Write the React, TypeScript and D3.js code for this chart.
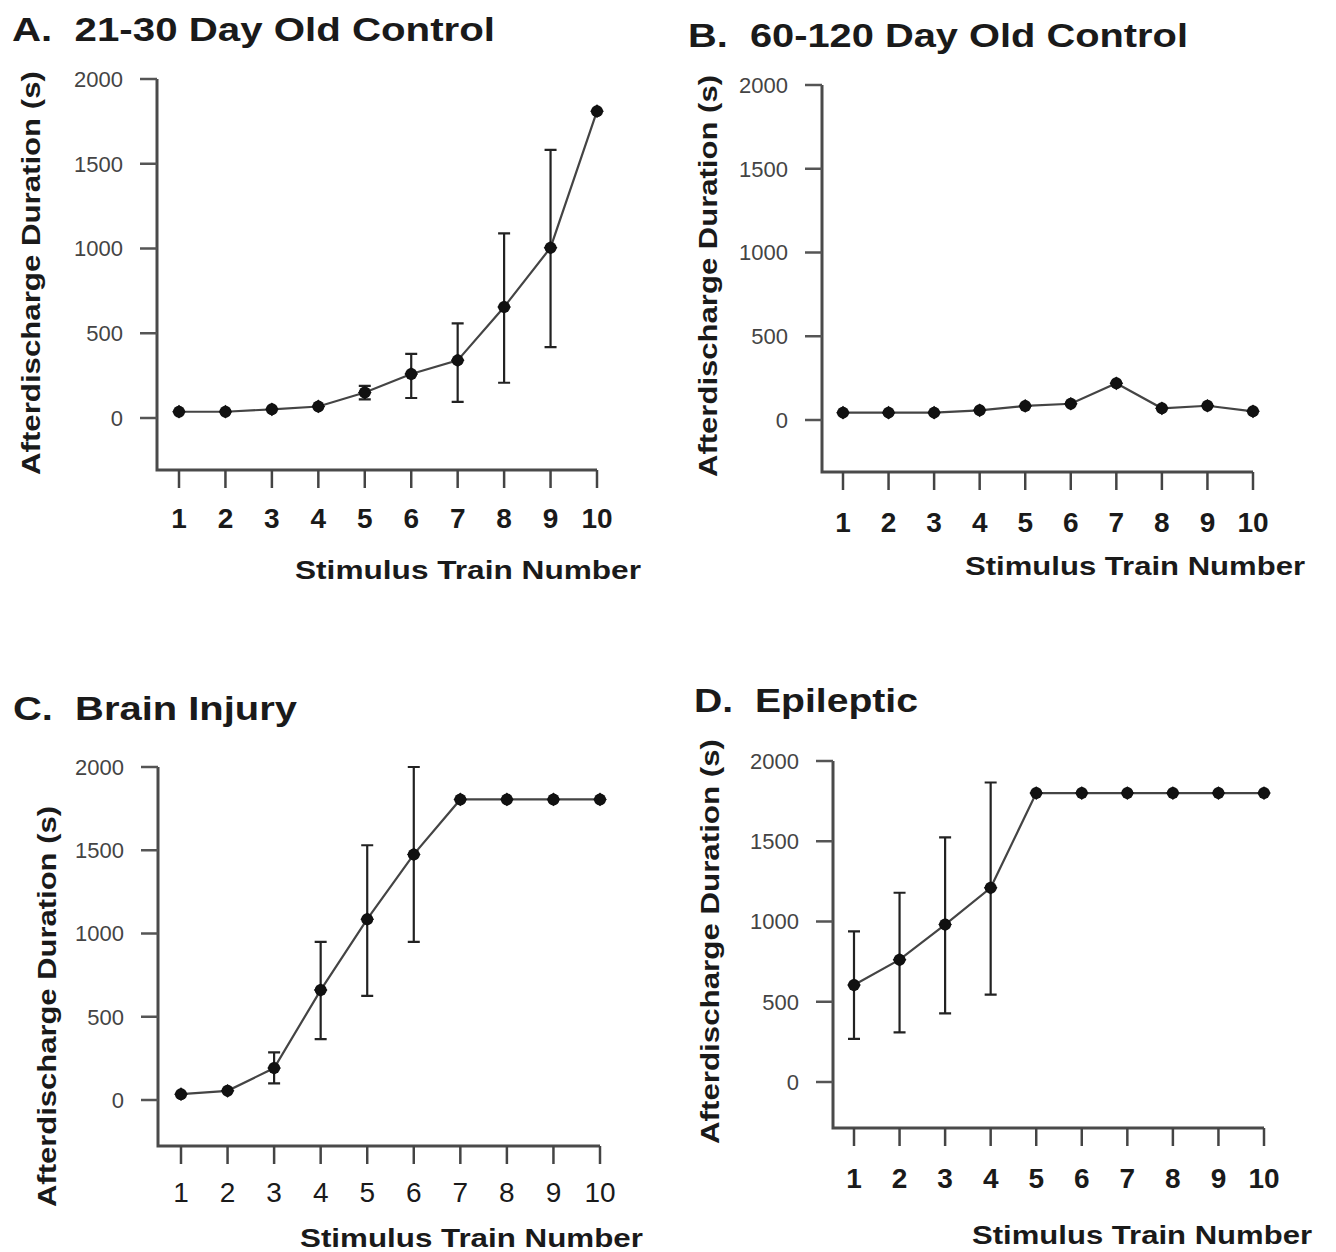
import * as d3 from 'd3';
import React, { useRef, useEffect } from 'react';

// stimulus train numbers on the x axis
const trains = [1, 2, 3, 4, 5, 6, 7, 8, 9, 10];
const yTicks = [0, 500, 1000, 1500, 2000];

// A. 21-30 day old control
const meanA = [37, 37, 51, 68, 150, 260, 340, 655, 1005, 1810];
const lowA = [null, null, null, null, 110, 118, 95, 208, 418, null];
const highA = [null, null, null, null, 190, 378, 558, 1089, 1582, null];

// B. 60-120 day old control
const meanB = [44, 44, 44, 58, 84, 97, 219, 70, 85, 52];

// C. brain injury
const meanC = [35, 55, 192, 660, 1086, 1475, 1805, 1805, 1805, 1805];
const lowC = [null, null, 100, 366, 625, 950, null, null, null, null];
const highC = [null, null, 286, 950, 1530, 2000, null, null, null, null];

// D. epileptic
const meanD = [604, 762, 981, 1210, 1800, 1800, 1800, 1800, 1800, 1800];
const lowD = [269, 309, 427, 545, null, null, null, null, null, null];
const highD = [939, 1179, 1524, 1866, null, null, null, null, null, null];

// nbsp keeps the wide gap after the panel letter
const titles = ['A.\u00a0 21-30 Day Old Control', 'B.\u00a0 60-120 Day Old Control', 'C.\u00a0 Brain Injury', 'D.\u00a0 Epileptic'];

const FONT = '"Liberation Sans", Arial, Helvetica, sans-serif';

const panels = [
    { title: titles[0], mean: meanA, low: lowA, high: highA, bold: true,
      tx: 12, ty: 41, tw: 483, axisX: 157, x1: 179, x10: 597, y0: 418, y2000: 79, xAxisY: 470,
      tickY: 528, lx1: 295, lx2: 641, ly: 579, yl: 40, ylTop: 71, ylBot: 475 },
    { title: titles[1], mean: meanB, low: null, high: null, bold: true,
      tx: 688, ty: 47, tw: 500, axisX: 822, x1: 843, x10: 1253, y0: 420, y2000: 85, xAxisY: 472,
      tickY: 532, lx1: 965, lx2: 1305, ly: 575, yl: 717, ylTop: 75, ylBot: 477 },
    { title: titles[2], mean: meanC, low: lowC, high: highC, bold: false,
      tx: 13, ty: 720, tw: 284, axisX: 158, x1: 181, x10: 600, y0: 1100, y2000: 767, xAxisY: 1146,
      tickY: 1202, lx1: 300, lx2: 643, ly: 1247, yl: 56, ylTop: 806, ylBot: 1207 },
    { title: titles[3], mean: meanD, low: lowD, high: highD, bold: true,
      tx: 694, ty: 712, tw: 224, axisX: 833, x1: 854, x10: 1264, y0: 1082, y2000: 761, xAxisY: 1128,
      tickY: 1188, lx1: 972, lx2: 1312, ly: 1244, yl: 719, ylTop: 739, ylBot: 1144 },
];

function App() {
    const ref = useRef(null);

    useEffect(() => {
        const svg = d3.select(ref.current);
        svg.selectAll('*').remove();

        panels.forEach((p) => {
            const g = svg.append('g');
            const x = d3.scaleLinear().domain([1, 10]).range([p.x1, p.x10]);
            const y = d3.scaleLinear().domain([0, 2000]).range([p.y0, p.y2000]);

            // title
            g.append('text')
                .attr('x', p.tx).attr('y', p.ty)
                .attr('font-family', FONT).attr('font-weight', 'bold').attr('font-size', 33)
                .attr('textLength', p.tw).attr('lengthAdjust', 'spacingAndGlyphs')
                .attr('fill', '#1a1a1a')
                .text(p.title);

            // axes
            g.append('path')
                .attr('d', `M${p.axisX},${y(2000)}V${p.xAxisY}H${x(10)}`)
                .attr('fill', 'none').attr('stroke', '#4a4a4a').attr('stroke-width', 3);

            yTicks.forEach((t) => {
                g.append('line')
                    .attr('x1', p.axisX - 17).attr('x2', p.axisX)
                    .attr('y1', y(t)).attr('y2', y(t))
                    .attr('stroke', '#555').attr('stroke-width', 2.5);
                g.append('text')
                    .attr('x', p.axisX - 34).attr('y', y(t)).attr('dy', '0.36em')
                    .attr('text-anchor', 'end')
                    .attr('font-family', FONT).attr('font-size', 22)
                    .attr('fill', '#444')
                    .text(t);
            });

            trains.forEach((t) => {
                g.append('line')
                    .attr('x1', x(t)).attr('x2', x(t))
                    .attr('y1', p.xAxisY).attr('y2', p.xAxisY + 18)
                    .attr('stroke', '#444').attr('stroke-width', 2.5);
                g.append('text')
                    .attr('x', x(t)).attr('y', p.tickY)
                    .attr('text-anchor', 'middle')
                    .attr('font-family', FONT).attr('font-size', 28)
                    .attr('font-weight', p.bold ? 'bold' : 'normal')
                    .attr('fill', '#1a1a1a')
                    .text(t);
            });

            // axis labels
            g.append('text')
                .attr('x', p.lx1).attr('y', p.ly)
                .attr('font-family', FONT).attr('font-weight', 'bold').attr('font-size', 26)
                .attr('textLength', p.lx2 - p.lx1).attr('lengthAdjust', 'spacingAndGlyphs')
                .attr('fill', '#1a1a1a')
                .text('Stimulus Train Number');

            g.append('text')
                .attr('transform', `translate(${p.yl},${p.ylBot}) rotate(-90)`)
                .attr('font-family', FONT).attr('font-weight', 'bold').attr('font-size', 26)
                .attr('textLength', p.ylBot - p.ylTop).attr('lengthAdjust', 'spacingAndGlyphs')
                .attr('fill', '#1a1a1a')
                .text('Afterdischarge Duration (s)');

            // error bars
            if (p.low) {
                trains.forEach((t, i) => {
                    if (p.low[i] == null) return;
                    const cx = x(t);
                    g.append('path')
                        .attr('d', `M${cx},${y(p.low[i])}V${y(p.high[i])}M${cx - 6},${y(p.low[i])}H${cx + 6}M${cx - 6},${y(p.high[i])}H${cx + 6}`)
                        .attr('fill', 'none').attr('stroke', '#222').attr('stroke-width', 2.2);
                });
            }

            // mean line
            const line = d3.line().x((d, i) => x(trains[i])).y((d) => y(d));
            g.append('path')
                .attr('d', line(p.mean))
                .attr('fill', 'none').attr('stroke', '#444').attr('stroke-width', 2.2);

            // markers
            const diamond = d3.symbol().type(d3.symbolDiamond2).size(120);
            p.mean.forEach((d, i) => {
                g.append('circle')
                    .attr('cx', x(trains[i])).attr('cy', y(d)).attr('r', 6)
                    .attr('fill', '#111');
                g.append('path')
                    .attr('d', diamond())
                    .attr('transform', `translate(${x(trains[i])},${y(d)})`)
                    .attr('fill', '#111');
            });
        });
    }, []);

    return (
        <div className="chart">
            <svg ref={ref} width={1336} height={1252}
                style={{ position: 'absolute', left: 0, top: 0, background: '#fff' }}>
            </svg>
        </div>
    );
}

export default App;
